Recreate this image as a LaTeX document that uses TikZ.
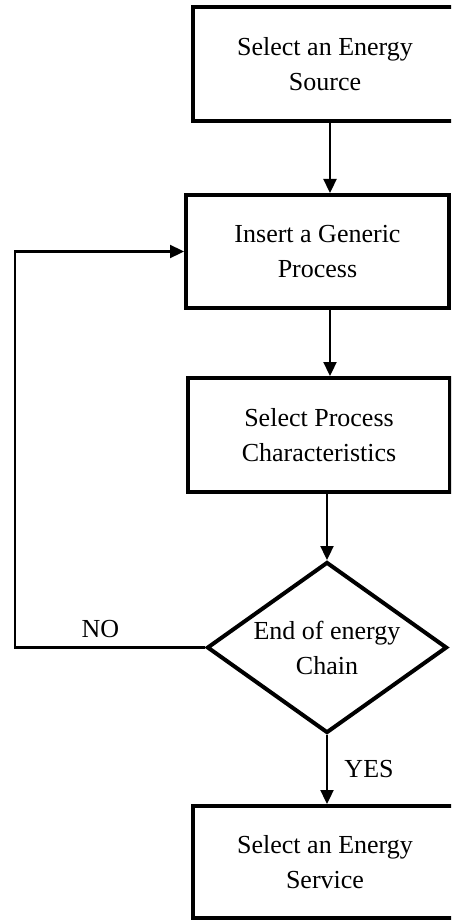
\documentclass[tikz,border=0pt]{standalone}
\usepackage{fontspec}
\setmainfont{Liberation Serif}
\usetikzlibrary{arrows.meta,positioning,shapes.geometric}

\begin{document}
\begin{tikzpicture}[x=1pt,y=-1pt,font=\fontsize{26}{35}\selectfont,
  stepbox/.style={draw,line width=4pt,align=center,inner sep=0pt},
  decide/.style={draw,diamond,aspect=1.4,line width=4pt,align=center,inner sep=0pt,
    minimum width=240pt,minimum height=171pt},
  flow/.style={line width=2.3pt,-{Triangle[length=14pt,width=13pt]}}]
\useasboundingbox (0,0) rectangle (451,920);
\clip (0,0) rectangle (451,920);
\node[stepbox,minimum width=264pt,minimum height=114pt] (src) at (325,64) {Select an Energy\\Source};
\node[stepbox,minimum width=263pt,minimum height=113pt] (gen) at (317.5,251.5) {Insert a Generic\\Process};
\node[stepbox,minimum width=262pt,minimum height=114pt] (chr) at (319,435) {Select Process\\Characteristics};
\node[decide] (end) at (327,647.5) {End of energy\\Chain};
\node[stepbox,minimum width=264pt,minimum height=112pt] (srv) at (325,862) {Select an Energy\\Service};
\coordinate (back) at (15,647.5);
\draw[flow] (src.south -| 330,0) -- (gen.north -| 330,0);
\draw[flow] (gen.south -| 330,0) -- (chr.north -| 330,0);
\draw[flow] (chr.south -| end.north) -- (end.north);
\draw[flow] (end.south) -- node[right=13pt] {YES} (srv.north -| end.south);
\draw[flow] (end.west) -- node[above=5pt,pos=0.55] {NO} (back) |- (gen.west);
\end{tikzpicture}
\end{document}
